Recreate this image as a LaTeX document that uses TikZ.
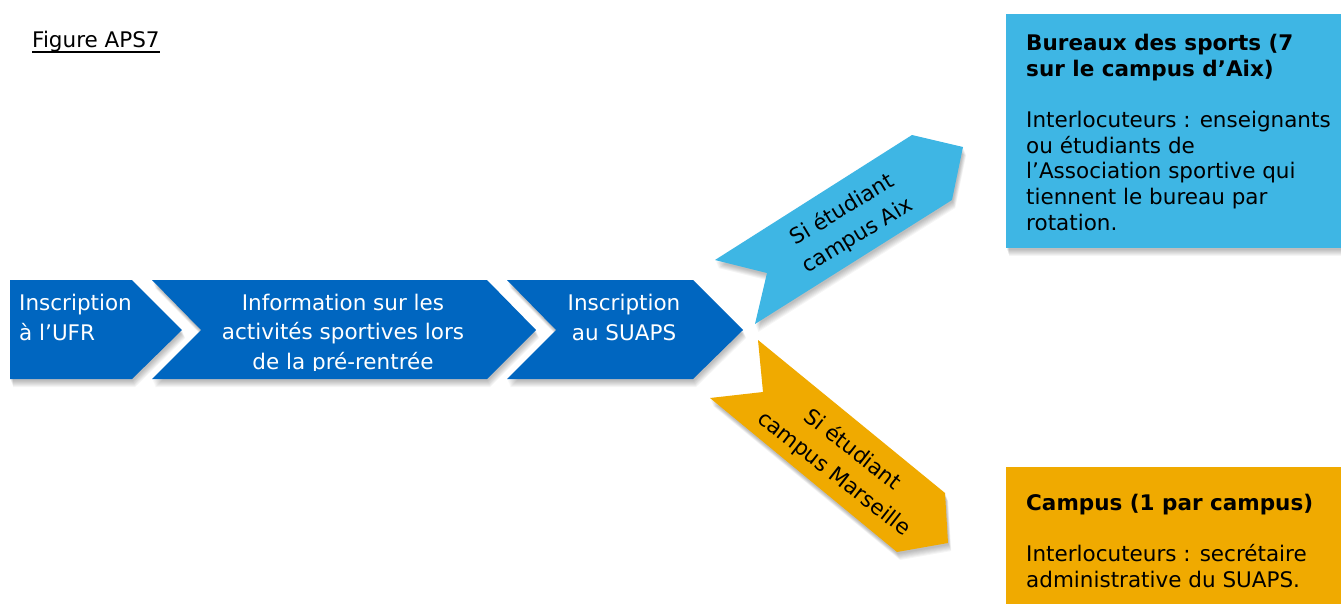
\documentclass[tikz,border=0pt]{standalone}
\usepackage{fontspec}
\setmainfont{DejaVu Sans}
\definecolor{stepblue}{RGB}{0,102,192}
\definecolor{aixblue}{RGB}{62,182,228}
\definecolor{marsorange}{RGB}{240,170,0}
% fill a closed path in colour #1 over a soft stacked shadow
\newcommand{\shadedfill}[2]{%
  \foreach \d in {8,7,6,5,4,3,2}{\fill[black,opacity=0.04,shift={(0.4*\d,\d)}] #2;}%
  \fill[#1] #2;}
\begin{document}
\begin{tikzpicture}[x=1pt,y=-1pt,
  steptext/.style={text=white,font=\fontsize{21.5}{29.5}\selectfont,inner sep=0pt},
  tagtext/.style={text=black,font=\fontsize{21.5}{30}\selectfont,inner sep=0pt,align=center},
  infotext/.style={text=black,font=\fontsize{21.5}{25.6}\selectfont,inner sep=0pt,align=left,anchor=base west}]
\clip (0,0) rectangle (1341,603);
\fill[white] (0,0) rectangle (1341,603);

% caption with its underline
\node[anchor=base west,inner sep=0pt,font=\fontsize{21.5}{25}\selectfont] (caption) at (32,47) {Figure APS7};
\draw[line width=1.6pt] ([yshift=-0.5pt]caption.south west) -- ([yshift=-0.5pt]caption.south east);

% process chevrons
\shadedfill{stepblue}{(10,280) -- (132,280) -- (182,330) -- (132,379) -- (10,379) -- cycle}
\shadedfill{stepblue}{(152,280) -- (487,280) -- (536,330) -- (487,379) -- (152,379) -- (201,330) -- cycle}
\shadedfill{stepblue}{(507,280) -- (693,280) -- (743,330) -- (693,379) -- (507,379) -- (556,330) -- cycle}

\node[steptext,align=left,anchor=base west] (ufr) at (19,340) {Inscription\\à l’UFR};
\begin{scope}
  \clip (152,280) rectangle (540,370);
  \node[steptext,align=center,anchor=base] (info) at (343,369) {Information sur les\\activités sportives lors\\de la pré-rentrée};
\end{scope}
\node[steptext,align=center,anchor=base] (suaps) at (624,340) {Inscription\\au SUAPS};

% branch arrows
\shadedfill{aixblue}{(715,260) -- (912,135) -- (963,147) -- (952,200) -- (755,324) -- (767,273) -- cycle}
\node[tagtext,rotate=31] (aix) at (850,223) {Si étudiant\\campus Aix};

\shadedfill{marsorange}{(758,340) -- (945,493) -- (948,543) -- (897,552) -- (710,398) -- (763,392) -- cycle}
\node[tagtext,rotate=-38] (mars) at (843,462) {Si étudiant\\campus Marseille};

% information boxes
\shadedfill{aixblue}{(1006,14) rectangle (1350,248)}
\node[infotext] (aixinfo) at (1026,230) {\textbf{Bureaux des sports (7}\\\textbf{sur le campus d’Aix)}\\[25.6pt]Interlocuteurs : enseignants\\ou étudiants de\\l’Association sportive qui\\tiennent le bureau par\\rotation.};

\shadedfill{marsorange}{(1006,467) rectangle (1350,620)}
\node[infotext] (marsinfo) at (1026,587) {\textbf{Campus (1 par campus)}\\[25.6pt]Interlocuteurs : secrétaire\\administrative du SUAPS.};
\end{tikzpicture}
\end{document}
